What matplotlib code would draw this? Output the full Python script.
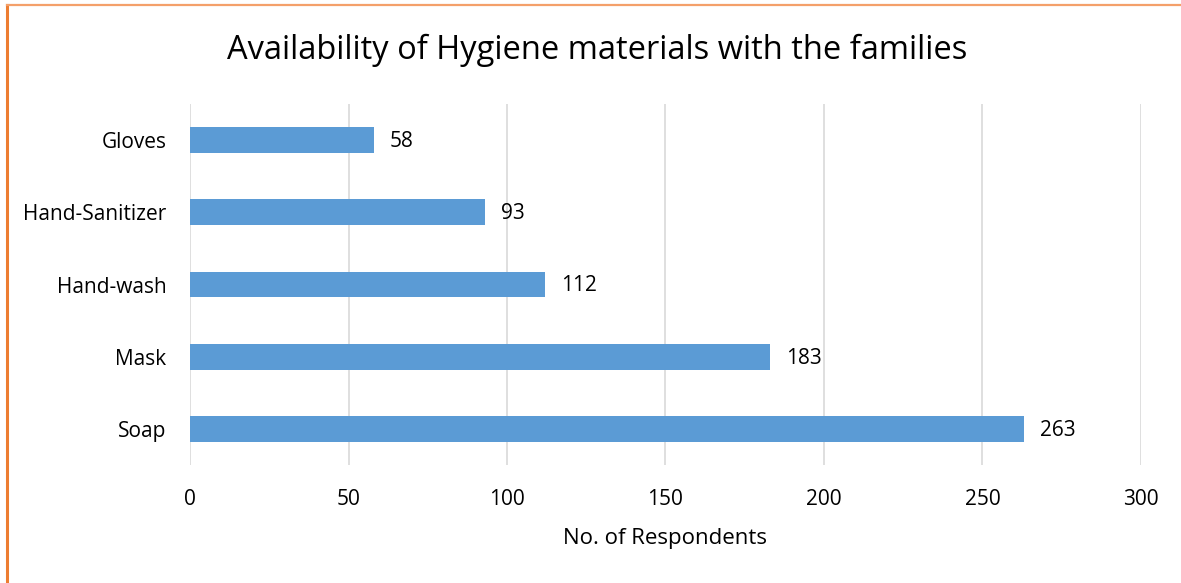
import matplotlib.pyplot as plt
from matplotlib.lines import Line2D

items = ["Soap", "Mask", "Hand-wash", "Hand-Sanitizer", "Gloves"]
counts = [263, 183, 112, 93, 58]
xticks = [0, 50, 100, 150, 200, 250, 300]

plt.rcParams["font.family"] = ["Open Sans", "DejaVu Sans"]

fig = plt.figure(figsize=(11.81, 5.83), dpi=100)
ax = fig.add_axes([0.1609, 0.2024, 0.8052, 0.6192])

ax.barh(range(len(items)), counts, height=0.36, color="#5b9bd5", zorder=3)
for i, v in enumerate(counts):
    ax.text(v + 5, i - 0.02, str(v), va="center", ha="left", fontsize=15, color="black")

ax.set_xlim(0, 300)
ax.set_ylim(-0.5, len(items) - 0.5)
ax.set_xticks(xticks)
ax.set_yticks(range(len(items)))
ax.set_yticklabels(items)
ax.tick_params(axis="both", length=0, labelsize=15, colors="black")
ax.tick_params(axis="x", pad=17)
ax.tick_params(axis="y", pad=17)
ax.grid(axis="x", color="#d9d9d9", linewidth=1.2, zorder=0)
for s in ax.spines.values():
    s.set_visible(False)
ax.set_xlabel("No. of Respondents", fontsize=16, labelpad=13)

fig.text(0.506, 0.913, "Availability of Hygiene materials with the families",
         ha="center", va="center", fontsize=23.5)

# orange frame on the left and top
fig.add_artist(Line2D([0.0059, 0.0059], [0, 0.991], color="#ed7d31", linewidth=2.2,
                      transform=fig.transFigure))
fig.add_artist(Line2D([0.0059, 1], [0.991, 0.991], color="#f4a06a", linewidth=1.6,
                      transform=fig.transFigure))

fig.savefig("out.png", dpi=100, facecolor="white")
